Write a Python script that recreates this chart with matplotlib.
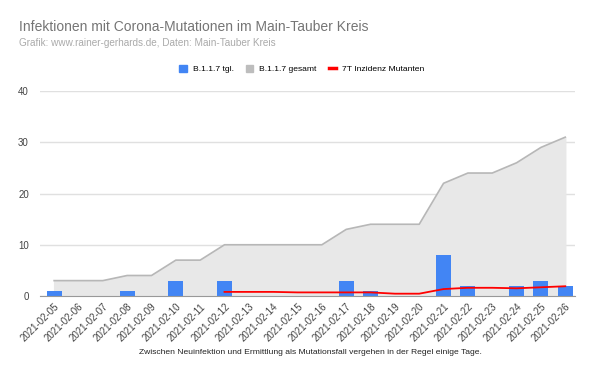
import numpy as np
import matplotlib.pyplot as plt
from matplotlib.patches import Patch
from matplotlib.lines import Line2D

plt.rcParams['font.family'] = ['Liberation Sans', 'DejaVu Sans']

dates = ['2021-02-05', '2021-02-06', '2021-02-07', '2021-02-08', '2021-02-09',
         '2021-02-10', '2021-02-11', '2021-02-12', '2021-02-13', '2021-02-14',
         '2021-02-15', '2021-02-16', '2021-02-17', '2021-02-18', '2021-02-19',
         '2021-02-20', '2021-02-21', '2021-02-22', '2021-02-23', '2021-02-24',
         '2021-02-25', '2021-02-26']
taeglich = [1, 0, 0, 1, 0, 3, 0, 3, 0, 0, 0, 0, 3, 1, 0, 0, 8, 2, 0, 2, 3, 2]
gesamt = [3, 3, 3, 4, 4, 7, 7, 10, 10, 10, 10, 10, 13, 14, 14, 14, 22, 24, 24, 26, 29, 31]
inzidenz = [np.nan] * 7 + [0.8, 0.8, 0.8, 0.7, 0.7, 0.7, 0.7, 0.45, 0.45,
                           1.35, 1.6, 1.6, 1.5, 1.7, 1.9]

x = np.arange(len(dates))

fig = plt.figure(figsize=(6, 3.76), dpi=100)
ax = fig.add_axes([0.0667, 0.2128, 0.892, 0.545])

ax.fill_between(x, gesamt, color='#e8e8e8', zorder=1)
ax.plot(x, gesamt, color='#b7b7b7', lw=1.2, zorder=2)
ax.bar(x, taeglich, width=0.62, color='#4285f4', zorder=3)
ax.plot(x, inzidenz, color='#ff0000', lw=1.3, zorder=4)

ax.set_xlim(-0.58, 21.41)
ax.set_ylim(0, 40)
ax.set_yticks([0, 10, 20, 30, 40])
ax.yaxis.grid(True, color='#e0e0e0', lw=1, zorder=0)
ax.set_axisbelow(True)
for s in ['top', 'right', 'left']:
    ax.spines[s].set_visible(False)
ax.spines['bottom'].set_color('#999999')
ax.spines['bottom'].set_zorder(5)
ax.tick_params(axis='both', length=0, labelsize=7, colors='#444444')
ax.set_xticks(x)
ax.set_xticklabels(dates, rotation=45, ha='right', rotation_mode='anchor')
ax.tick_params(axis='x', pad=4)
ax.tick_params(axis='y', pad=8)

fig.text(19 / 600, 1 - 27 / 376, 'Infektionen mit Corona-Mutationen im Main-Tauber Kreis',
         fontsize=10, color='#757575', va='center')
fig.text(19 / 600, 1 - 43 / 376, 'Grafik: www.rainer-gerhards.de, Daten: Main-Tauber Kreis',
         fontsize=7.2, color='#aaaaaa', va='center')

handles = [Patch(color='#4285f4'), Patch(color='#bdbdbd'),
           Line2D([0], [0], color='#ff0000', lw=2.5)]
fig.legend(handles, ['B.1.1.7 tgl.', 'B.1.1.7 gesamt', '7T Inzidenz Mutanten'],
           loc='center', bbox_to_anchor=(0.503, 1 - 69 / 376), ncol=3, frameon=False,
           fontsize=6.1, handlelength=0.9, handleheight=0.9, columnspacing=1.4,
           handletextpad=0.7)

fig.text(310 / 600, 1 - 352 / 376,
         'Zwischen Neuinfektion und Ermittlung als Mutationsfall vergehen in der Regel einige Tage.',
         fontsize=6.1, color='#222222', ha='center', va='center')

fig.savefig('out.png', dpi=100)
